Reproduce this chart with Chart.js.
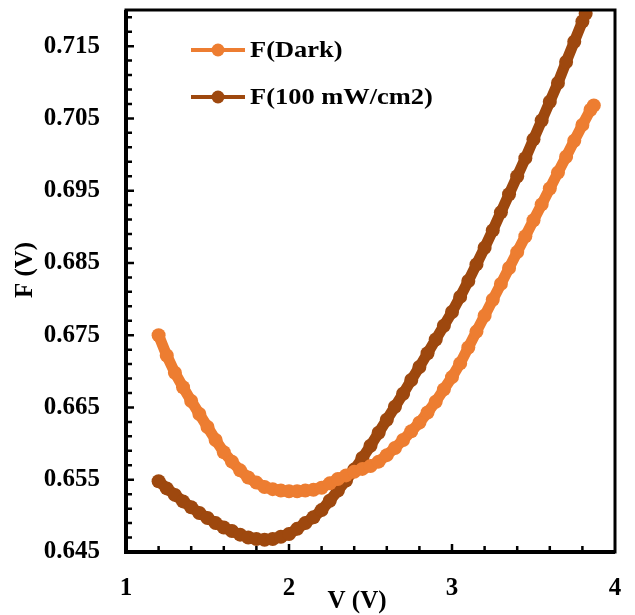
<!DOCTYPE html>
<html>
<head>
<meta charset="utf-8">
<script src="https://cdn.jsdelivr.net/npm/chart.js@4.4.1/dist/chart.umd.min.js"></script>
<style>
  html, body { margin: 0; padding: 0; background: #fff; }
  #wrap { width: 635px; height: 615px; }
</style>
</head>
<body>
<div id="wrap"><canvas id="fChart" width="635" height="615"></canvas></div>
<script>
const darkV = [1.20, 1.25, 1.30, 1.35, 1.40, 1.45, 1.50, 1.55, 1.60, 1.65, 1.70, 1.75, 1.80, 1.85, 1.90, 1.95,
    2.00, 2.05, 2.10, 2.15, 2.20, 2.25, 2.30, 2.35, 2.40, 2.45, 2.50, 2.55, 2.60, 2.65, 2.70, 2.75, 2.80, 2.85,
    2.90, 2.95, 3.00, 3.05, 3.10, 3.15, 3.20, 3.25, 3.30, 3.35, 3.40, 3.45, 3.50, 3.55, 3.60, 3.65, 3.70, 3.75,
    3.80, 3.85, 3.87];
const darkF = [0.6750, 0.6722, 0.6698, 0.6678, 0.6659, 0.6641, 0.6623, 0.6605, 0.6588, 0.6575, 0.6563, 0.6553,
    0.6546, 0.6540, 0.6537, 0.6535, 0.6534, 0.6534, 0.6535, 0.6536, 0.6539, 0.6545, 0.6551, 0.6556, 0.6561,
    0.6565, 0.6569, 0.6575, 0.6584, 0.6594, 0.6605, 0.6617, 0.6629, 0.6643, 0.6658, 0.6675, 0.6692, 0.6711,
    0.6733, 0.6755, 0.6777, 0.6799, 0.6821, 0.6843, 0.6865, 0.6887, 0.6909, 0.6931, 0.6953, 0.6975, 0.6997,
    0.7019, 0.7041, 0.7062, 0.7068];

const lightV = [1.20, 1.25, 1.30, 1.35, 1.40, 1.45, 1.50, 1.55, 1.60, 1.65, 1.70, 1.75, 1.80, 1.85, 1.90, 1.95,
    2.00, 2.05, 2.10, 2.15, 2.20, 2.25, 2.30, 2.35, 2.40, 2.45, 2.50, 2.55, 2.60, 2.65, 2.70, 2.75, 2.80, 2.85,
    2.90, 2.95, 3.00, 3.05, 3.10, 3.15, 3.20, 3.25, 3.30, 3.35, 3.40, 3.45, 3.50, 3.55, 3.60, 3.65, 3.70, 3.75,
    3.80, 3.82];
const lightF = [0.6548, 0.6538, 0.6529, 0.6520, 0.6512, 0.6504, 0.6497, 0.6490, 0.6484, 0.6479, 0.6474, 0.6470,
    0.6468, 0.6467, 0.6468, 0.6471, 0.6475, 0.6482, 0.6490, 0.6498, 0.6508, 0.6521, 0.6535, 0.6549, 0.6564,
    0.6580, 0.6597, 0.6615, 0.6633, 0.6651, 0.6669, 0.6688, 0.6706, 0.6725, 0.6744, 0.6763, 0.6782, 0.6803,
    0.6825, 0.6848, 0.6871, 0.6895, 0.6920, 0.6945, 0.6970, 0.6995, 0.7021, 0.7047, 0.7073, 0.7099, 0.7128,
    0.7156, 0.7184, 0.7195];

const seriesNames = ["F(Dark)", "F(100 mW/cm2)"];
const yTickLabels = [0.645, 0.655, 0.665, 0.675, 0.685, 0.695, 0.705, 0.715];
const xTickLabels = [1, 2, 3, 4];
const xTitle = "V (V)";
const yTitle = "F (V)";

const darkColor = "#ED7D31";
const lightColor = "#9E480E";
const serif = "'Liberation Serif', 'Times New Roman', serif";

function toPoints(xs, ys) {
    return xs.map((x, i) => ({ x: x, y: ys[i] }));
}

// frame, inward tick marks, axis titles and the legend inside the plot
const framePlugin = {
    id: "frame",
    afterDraw(c) {
        const ctx = c.ctx;
        const a = c.chartArea;
        const xs = c.scales.x;
        const ys = c.scales.y;
        ctx.save();
        ctx.strokeStyle = "#000";
        ctx.lineWidth = 3;
        ctx.strokeRect(a.left, a.top, a.right - a.left, a.bottom - a.top);
        ctx.lineWidth = 4;
        ctx.beginPath();
        ctx.moveTo(a.left, a.top);
        ctx.lineTo(a.left, a.bottom);
        ctx.lineTo(a.right, a.bottom);
        ctx.stroke();

        ctx.lineWidth = 2.5;
        ctx.beginPath();
        for (let i = 1; i < 15; i++) {
            const v = 1 + i * 0.2;
            const px = xs.getPixelForValue(v);
            const len = (i % 5 === 0) ? 8 : 6;
            ctx.moveTo(px, a.bottom);
            ctx.lineTo(px, a.bottom - len);
        }
        for (let i = 1; i < 38; i++) {
            const v = 0.645 + i * 0.002;
            const py = ys.getPixelForValue(v);
            if (py < a.top + 2) continue;
            const len = (i % 5 === 0) ? 8 : 6;
            ctx.moveTo(a.left, py);
            ctx.lineTo(a.left + len, py);
        }
        ctx.stroke();

        // axis titles
        ctx.fillStyle = "#000";
        ctx.font = "bold 25px " + serif;
        ctx.textAlign = "center";
        ctx.textBaseline = "middle";
        ctx.fillText(xTitle, 357, 602);
        ctx.save();
        ctx.translate(26, 270);
        ctx.rotate(-Math.PI / 2);
        ctx.fillText(yTitle, 0, 0);
        ctx.restore();

        // legend
        const items = c.data.datasets;
        ctx.font = "bold 23px " + serif;
        ctx.textAlign = "left";
        items.forEach((ds, i) => {
            const y = 50 + i * 47;
            ctx.strokeStyle = ds.borderColor;
            ctx.lineWidth = 4;
            ctx.beginPath();
            ctx.moveTo(191, y);
            ctx.lineTo(245, y);
            ctx.stroke();
            ctx.fillStyle = ds.borderColor;
            ctx.beginPath();
            ctx.arc(218, y, 6.5, 0, Math.PI * 2);
            ctx.fill();
            ctx.fillStyle = "#000";
            ctx.save();
            ctx.translate(250, y + 1);
            ctx.scale(1.15, 1);
            ctx.fillText(ds.label, 0, 0);
            ctx.restore();
        });
        ctx.restore();
    }
};

new Chart(document.getElementById("fChart"), {
    type: "line",
    data: {
        datasets: [{
            label: seriesNames[0],
            data: toPoints(darkV, darkF),
            borderColor: darkColor,
            backgroundColor: darkColor,
            borderWidth: 11,
            pointRadius: 7,
            pointBorderWidth: 0,
            tension: 0,
            fill: false
        }, {
            label: seriesNames[1],
            data: toPoints(lightV, lightF),
            borderColor: lightColor,
            backgroundColor: lightColor,
            borderWidth: 11,
            pointRadius: 7,
            pointBorderWidth: 0,
            tension: 0,
            fill: false
        }]
    },
    options: {
        responsive: false,
        animation: false,
        layout: {
            padding: { top: 10, right: 20, left: 0, bottom: 0 }
        },
        plugins: {
            legend: { display: false },
            tooltip: { enabled: false }
        },
        scales: {
            x: {
                type: "linear",
                min: 1,
                max: 4,
                afterBuildTicks: (s) => { s.ticks = xTickLabels.map(v => ({ value: v })); },
                afterFit: (s) => {
                    s.height = 63;
                    s.paddingLeft = 0;
                    s.paddingRight = 0;
                },
                grid: { display: false, drawTicks: false },
                border: { display: false },
                ticks: {
                    padding: 22,
                    color: "#000",
                    font: { family: serif, size: 25, weight: "bold" },
                    maxRotation: 0
                },
                title: { display: false }
            },
            y: {
                type: "linear",
                min: 0.645,
                max: 0.72,
                afterBuildTicks: (s) => { s.ticks = yTickLabels.map(v => ({ value: v })); },
                afterFit: (s) => {
                    s.width = 126;
                    s.paddingTop = 0;
                    s.paddingBottom = 0;
                },
                grid: { display: false, drawTicks: false },
                border: { display: false },
                ticks: {
                    padding: 26,
                    color: "#000",
                    font: { family: serif, size: 25, weight: "bold" },
                    callback: (v) => v.toFixed(3)
                },
                title: { display: false }
            }
        }
    },
    plugins: [framePlugin]
});
</script>
</body>
</html>
